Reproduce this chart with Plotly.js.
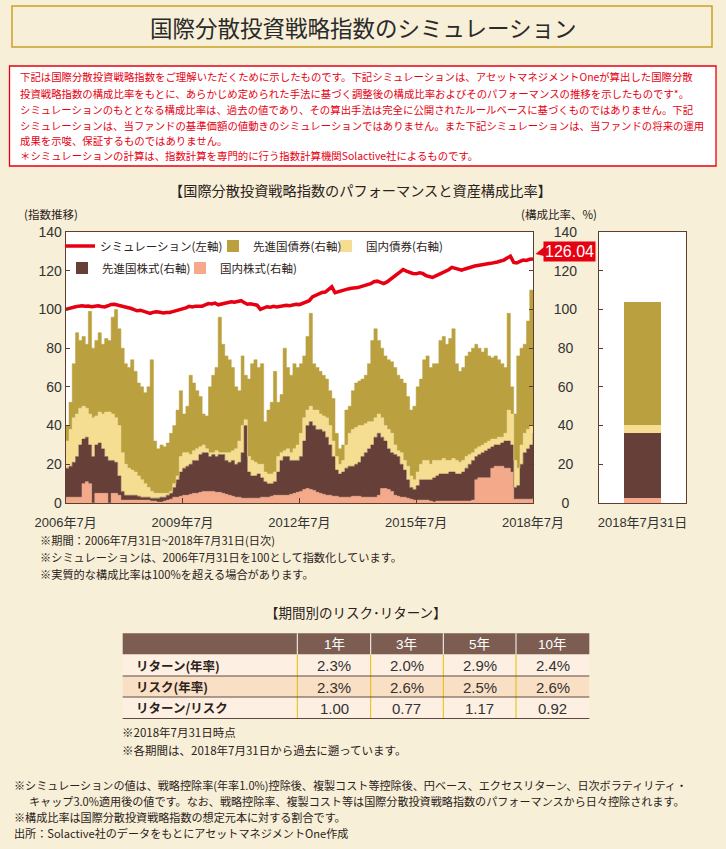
<!DOCTYPE html>
<html><head><meta charset="utf-8">
<script src="https://cdn.plot.ly/plotly-3.0.1.min.js"></script>
<style>html,body{margin:0;padding:0;background:#f7efd7;}#chart{width:726px;height:849px;}</style>
</head><body><div id="chart"></div>
<script>
// ---------- data (monthly, 2006-07-31 .. 2018-07-31) ----------
const START_YEAR = 2006, START_MONTH = 7, N_MONTHS = 145;

const simIndex = [100.0,100.6,101.0,101.4,101.7,101.9,101.6,101.8,101.4,101.7,
 101.9,101.5,101.3,101.9,102.6,102.7,102.2,101.6,101.4,101.0,
 100.6,99.8,99.3,99.6,99.1,98.4,97.9,98.6,98.8,98.5,
 98.2,98.4,98.4,98.9,99.3,99.9,100.3,100.8,101.6,101.3,
 101.7,101.5,101.7,102.3,103.0,102.8,103.3,102.4,102.7,103.2,
 103.6,104.0,103.7,104.2,104.5,103.6,102.7,102.9,102.5,102.2,
 100.0,100.6,101.4,101.1,101.6,101.3,101.6,101.7,102.1,101.9,
 102.4,102.7,102.5,103.2,103.4,104.5,106.5,107.4,108.1,108.8,
 109.0,110.4,111.7,108.6,109.2,109.6,110.0,110.6,110.9,111.0,
 111.3,111.8,112.2,112.5,113.3,114.3,114.6,114.0,113.4,114.2,
 115.5,116.8,118.0,119.2,120.6,119.8,119.0,118.6,118.4,118.9,
 118.6,117.5,117.0,116.5,117.3,118.0,118.6,119.4,120.5,121.7,
 121.2,120.6,120.3,120.9,121.5,122.0,122.4,122.7,123.1,123.4,
 123.6,123.8,124.0,124.5,125.0,125.5,126.6,127.5,124.3,124.0,
 124.8,125.5,125.3,125.9,126.04];

const domesticEquity = [3,3,3,3,3,10,11,10,0,5,
 5,5,5,0,5,5,4,1.5,1.5,1.5,
 1.5,1.5,1.5,1.5,1.5,1.5,1,1,0.5,0.5,
 1,1.5,2,3,3,3.5,4,4,4.5,5,
 5,5.5,6,6,6,6,5.5,5.5,5,4.5,
 4,3.5,3,3,2.5,2.5,2.5,2.5,2.5,2.5,
 3,3,3,3.5,4,4,4,4,4,4.5,
 5,5.5,6,7,7.5,7,6.5,5.5,5,4.5,
 4,4,3.5,3.5,3,3,3,3,3.5,3.5,
 3.5,3,3,3,3,3,4,7.5,7.5,7,
 6,4,3.5,3,3,2.5,2,1.5,1.5,1.5,
 1.5,1.5,1,0.5,1,1,1,1,1,1,
 1,1,1,1,1,1.5,12,13,13,13,
 13,18,19,19,19,18,18,16,2,2,
 2,2,2,2,2.8];

const foreignEquity = [15,16,18,21,27,23,23,20,24,25,
 26,23,19,22,17,16,10,4.5,2.5,2.5,
 2.5,2.5,2,1.5,1.5,1.5,1.5,1.5,2,2.5,
 2,2.5,3,5,9,12.5,14,15,15.5,17,
 17,19.5,20,20,18,19,18.5,19.5,20,17.5,
 17,18.5,17,18,23.5,37.5,13.5,11.5,11.5,12.5,
 10,8,7,6.5,7,12,18,20,20,17.5,
 17,16.5,18,25,32.5,35,33.5,32.5,33,32.5,
 30,26,20.5,13.5,12,13,15,16,15.5,16.5,
 17.5,21,23,25,27,31,32,26.5,24.5,21,
 20,21,20.5,17,14,9.5,6,5.5,7.5,10.5,
 10.5,10.5,11,12.5,13,14,14,14,15,15,
 14,14,15,17,19,20.5,12,12,13,14,
 15,11,11,11,12,14,14,14,6,7,
 18,24,26,28,33.3];

const domesticBond = [14,19,23,22,19,17,15,16,20,15,
 16,18,23,25,24,23,26,20,16,14,
 13,12,10.5,9,7,5,3.5,2.5,2.5,2,
 2,1,1,2,2,8,8,7,5,5,
 6,4,4,2,2,1,3,1,1,4,
 5,5,8,11,14,3,8,8,7,5,
 7,5,5,5,5,8,4,3,4,4,
 6,8,12,12,8,8,8,10,8,8,
 10,10,8,7,5,6,12,17,19,19,
 19,16,15,14,12,10,10,10,8,10,
 10,5,3,6,5,7,6,5,7,8,
 10,10,8,9,8,7,8,7,6,7,
 7,6,6,6,5,4,4,4,4,4,
 4,4,3,4,3,4,16,16,14,9,
 10,10,10,10,4.2];

const foreignBond = [8,14,28,42,35,36,33,53,36,39,
 41,36,38,37,50,56,50,54,52,52,
 57,52,48,48,47,52,68,27,23,25,
 24,26,30,30,34,34,20,24,41,35,
 30,26,16,17,34,40,43,70,56,50,
 48,43,32,26,36,23,40,50,53,50,
 52,26,33,37,52,28,30,53,42,40,
 44,40,36,32,38,48,24,22,22,21,
 20,18,22,12,8,8,18,14,20,23,
 23,24,25,30,42,46,38,36,36,36,
 37,40,39,38,40,36,34,38,44,44,
 52,54,50,50,50,62,63,60,63,67,
 50,47,48,52,53,54,54,51,48,49,
 44,42,43,40,38,34,50,14,24,58,
 50,46,56,70,63.5];

const assetNames = ['国内株式','先進国株式','国内債券','先進国債券'];
const simName = 'シミュレーション(左軸)';
const barCategory = ['2018年7月31日'];
const xTickVals = ['2006-07-31','2009-07-31','2012-07-31','2015-07-31','2018-07-31'];
const xTickText = ['2006年7月','2009年7月','2012年7月','2015年7月','2018年7月'];
const yTickVals = [0,20,40,60,80,100,120,140];

const periods = ['1年','3年','5年','10年'];
const metricLabels = ['リターン(年率)','リスク(年率)','リターン/リスク'];
const returnPct = [2.3,2.0,2.9,2.4];
const riskPct = [2.3,2.6,2.5,2.6];
const returnRisk = [1.00,0.77,1.17,0.92];

// ---------- texts ----------
const TITLE = '国際分散投資戦略指数のシミュレーション';
const NOTICE = [
 '下記は国際分散投資戦略指数をご理解いただくために示したものです。下記シミュレーションは、アセットマネジメントOneが算出した国際分散',
 '投資戦略指数の構成比率をもとに、あらかじめ定められた手法に基づく調整後の構成比率およびそのパフォーマンスの推移を示したものです*。',
 'シミュレーションのもととなる構成比率は、過去の値であり、その算出手法は完全に公開されたルールベースに基づくものではありません。下記',
 'シミュレーションは、当ファンドの基準価額の値動きのシミュレーションではありません。また下記シミュレーションは、当ファンドの将来の運用',
 '成果を示唆、保証するものではありません。',
 '＊シミュレーションの計算は、指数計算を専門的に行う指数計算機関Solactive社によるものです。'];
const CHART_TITLE = '【国際分散投資戦略指数のパフォーマンスと資産構成比率】';
const CHART_NOTES = ['※期間：2006年7月31日~2018年7月31日(日次)',
 '※シミュレーションは、2006年7月31日を100として指数化しています。',
 '※実質的な構成比率は100%を超える場合があります。'];
const TABLE_TITLE = '【期間別のリスク･リターン】';
const TABLE_NOTES = ['※2018年7月31日時点','※各期間は、2018年7月31日から過去に遡っています。'];
const FOOT_NOTES = [
 '※シミュレーションの値は、戦略控除率(年率1.0%)控除後、複製コスト等控除後、円ベース、エクセスリターン、日次ボラティリティ・',
 'キャップ3.0%適用後の値です。なお、戦略控除率、複製コスト等は国際分散投資戦略指数のパフォーマンスから日々控除されます。',
 '※構成比率は国際分散投資戦略指数の想定元本に対する割合です。',
 '出所：Solactive社のデータをもとにアセットマネジメントOne作成'];

// ---------- styling ----------
const W = 726, H = 849;
const px = x => x / W;
const py = y => 1 - y / H;
const BG = '#f7efd7';
const AX = '#5c3d2e';
const TXT = '#2b2220';
const JP = '"Noto Sans CJK JP", sans-serif';
const NUM = '"Liberation Sans", "Noto Sans CJK JP", sans-serif';
const assetColors = ['#f3a98a','#653f38','#f5de92','#bba03f'];
const RED = '#e60012';

// month-end dates
const dates = [];
for (let i = 0; i < N_MONTHS; i++) {
  const t = START_MONTH - 1 + i;
  const y = START_YEAR + Math.floor(t / 12);
  const m = t % 12 + 1;
  const d = new Date(Date.UTC(y, m, 0)).getUTCDate();
  dates.push(y + '-' + String(m).padStart(2,'0') + '-' + String(d).padStart(2,'0'));
}

const series = [domesticEquity, foreignEquity, domesticBond, foreignBond];
const traces = [];
series.forEach((s, i) => traces.push({
  type:'scatter', x:dates, y:s, xaxis:'x', yaxis:'y2', stackgroup:'alloc', mode:'lines',
  line:{width:0.5, color:assetColors[i], shape:'hv'}, fillcolor:assetColors[i],
  showlegend:false, hoverinfo:'skip', name:assetNames[i]
}));
traces.push({type:'scatter', x:dates, y:simIndex, xaxis:'x', yaxis:'y', mode:'lines',
  line:{color:RED, width:3.5}, name:simName, legend:'legend'});
const barLegends = ['legend5','legend4','legend3','legend2'];
series.forEach((s, i) => traces.push({
  type:'bar', x:barCategory, y:[s[s.length-1]], xaxis:'x3', yaxis:'y3',
  marker:{color:assetColors[i], line:{width:0}}, name:assetNames[i] + '(右軸)',
  legend:barLegends[i], showlegend:true
}));

function legendAt(xPx, yPx) {
  return {x:px(xPx), y:py(yPx), xanchor:'left', yanchor:'middle', orientation:'h',
    bgcolor:'rgba(0,0,0,0)', borderwidth:0, itemwidth:30,
    font:{family:JP, size:11.5, color:TXT}};
}

function txt(xPx, yPx, text, size, opts) {
  opts = opts || {};
  return {xref:'paper', yref:'paper', x:px(xPx), y:py(yPx), text:text, showarrow:false,
    xanchor:opts.anchor || 'left', yanchor:'middle',
    font:{family:opts.family || JP, size:size, color:opts.color || TXT, weight:opts.weight || 'normal'}};
}
function rect(x0,y0,x1,y1,fill,line,lw) {
  return {type:'rect', xref:'paper', yref:'paper', x0:px(x0), x1:px(x1), y0:py(y0), y1:py(y1),
    fillcolor:fill, line:{color:line || 'rgba(0,0,0,0)', width:lw || 0}, layer:'below'};
}
function hline(x0,x1,y,color,w) {
  return {type:'line', xref:'paper', yref:'paper', x0:px(x0), x1:px(x1), y0:py(y), y1:py(y), line:{color:color,width:w}, layer:'above'};
}
function vline(x,y0,y1,color,w) {
  return {type:'line', xref:'paper', yref:'paper', x0:px(x), x1:px(x), y0:py(y0), y1:py(y1), line:{color:color,width:w}, layer:'above'};
}

const annotations = [];
const shapes = [];

// title box
shapes.push(rect(12,6,712,47,'rgba(0,0,0,0)','#c9a227',1.5));
annotations.push(txt(363,26.5,TITLE,22.5,{anchor:'center', color:'#2a2a2a'}));
// notice box
shapes.push(rect(9.5,66,716,166,'#ffffff',RED,1.3));
const noticeY = [77,93.3,109.5,125.5,141,156];
NOTICE.forEach((t,i) => annotations.push(txt(18,noticeY[i],t,10.4,{color:RED})));
// chart title / axis captions
annotations.push(txt(360,190,CHART_TITLE,14.2,{anchor:'center'}));
annotations.push(txt(51,214,'(指数推移)',11.5,{anchor:'center'}));
annotations.push(txt(559,214,'(構成比率、%)',11.5,{anchor:'center'}));
// chart notes
[540,557,574].forEach((y,i) => annotations.push(txt(38,y,CHART_NOTES[i],11.2)));
// value label
annotations.push({xref:'x', yref:'y', x:dates[dates.length-1], y:simIndex[simIndex.length-1],
  text:simIndex[simIndex.length-1].toFixed(2), showarrow:false, xanchor:'left', yanchor:'middle',
  xshift:10, yshift:8, bgcolor:RED, borderpad:1,
  font:{family:NUM, size:16, color:'#ffffff'}});
shapes.push({type:'path', xref:'paper', yref:'paper', layer:'above',
  path:'M '+px(544)+' '+py(247)+' L '+px(535.5)+' '+py(254)+' L '+px(544)+' '+py(256)+' Z',
  fillcolor:RED, line:{width:0}});

// table
annotations.push(txt(356,611.5,TABLE_TITLE,13.5,{anchor:'center'}));
const colX = [122.7,297.3,370.7,443.3,516,589.3];
const rowY = [633.3,654.5,676,697,718.5];
shapes.push(rect(colX[0],rowY[0],colX[5],rowY[1],'#7d5d52'));
shapes.push(rect(colX[0],rowY[1],colX[5],rowY[2],'#fdf0e2'));
shapes.push(rect(colX[0],rowY[2],colX[5],rowY[3],'#f9dfc4'));
shapes.push(rect(colX[0],rowY[3],colX[5],rowY[4],'#fdf0e2'));
for (let c = 1; c <= 4; c++) {
  shapes.push(vline(colX[c],rowY[0],rowY[1],'#ffffff',1));
  shapes.push(vline(colX[c],rowY[1],rowY[4],'#e6bd00',1));
}
[rowY[2],rowY[3],rowY[4]].forEach(y => shapes.push(hline(colX[0],colX[5],y,'#5c4a42',1)));
periods.forEach((p,c) => annotations.push(txt((colX[c+1]+colX[c+2])/2,(rowY[0]+rowY[1])/2+0.5,p,13.5,{anchor:'center',color:'#ffffff',family:NUM})));
const tableRows = [returnPct.map(v => v.toFixed(1)+'%'), riskPct.map(v => v.toFixed(1)+'%'), returnRisk.map(v => v.toFixed(2))];
metricLabels.forEach((lab,r) => {
  const yc = (rowY[r+1]+rowY[r+2])/2;
  annotations.push(txt(134,yc,lab,12.5,{weight:'bold'}));
  tableRows[r].forEach((v,c) => annotations.push(txt((colX[c+1]+colX[c+2])/2,yc+0.5,v,15,{anchor:'center',family:NUM,color:'#333'})));
});
[731.5,749.5].forEach((y,i) => annotations.push(txt(120,y,TABLE_NOTES[i],11.5)));
// footnotes
[[12,785],[27,801],[12,817],[12,833]].forEach((p,i) => annotations.push(txt(p[0],p[1],FOOT_NOTES[i],11.1)));

const yTickText = yTickVals.map(v => '\u00a0'.repeat(3 - String(v).length) + v);
const tickFont = {family:NUM, size:14, color:'#333'};

const layout = {
  width:W, height:H, margin:{l:0,r:0,t:0,b:0}, paper_bgcolor:BG, plot_bgcolor:'#ffffff',
  barmode:'stack', bargap:0.586, showlegend:true, hovermode:false,
  xaxis:{domain:[px(65.7),px(533)], anchor:'y', type:'date', range:['2006-07-31','2018-07-31'],
    tickmode:'array', tickvals:xTickVals, ticktext:xTickText, ticks:'inside', ticklen:5, tickcolor:AX,
    showline:true, linecolor:AX, linewidth:1, mirror:true, showgrid:false, zeroline:false,
    tickfont:{family:NUM, size:13, color:'#333'}, ticklabelstandoff:7},
  yaxis:{domain:[py(503),py(232)], anchor:'x', range:[0,140], tickmode:'array', tickvals:yTickVals,
    ticks:'inside', ticklen:4, tickcolor:AX, showline:true, linecolor:AX, linewidth:1,
    showgrid:false, zeroline:false, tickfont:tickFont},
  yaxis2:{overlaying:'y', anchor:'x', side:'right', range:[0,140], tickmode:'array', tickvals:yTickVals,
    ticktext:yTickText, ticks:'inside', ticklen:4, tickcolor:AX, showline:true, linecolor:AX, linewidth:1,
    showgrid:false, zeroline:false, tickfont:tickFont, ticklabelstandoff:17},
  xaxis3:{domain:[px(599),px(686)], anchor:'y3', type:'category', ticks:'', showline:true, mirror:true,
    linecolor:AX, linewidth:1, showgrid:false, tickfont:{family:NUM, size:13, color:'#333'}, ticklabelstandoff:7},
  yaxis3:{domain:[py(503),py(232)], anchor:'x3', range:[0,140], tickmode:'array', tickvals:yTickVals,
    ticks:'inside', ticklen:4, tickcolor:AX, showticklabels:false, showline:true, mirror:true,
    linecolor:AX, linewidth:1, showgrid:false, zeroline:false},
  legend:legendAt(60,246),
  legend2:legendAt(213,246),
  legend3:legendAt(326,246),
  legend4:legendAt(62,268),
  legend5:legendAt(180,268),
  annotations:annotations, shapes:shapes
};

Plotly.newPlot('chart', traces, layout, {staticPlot:true, displayModeBar:false});
</script></body></html>
